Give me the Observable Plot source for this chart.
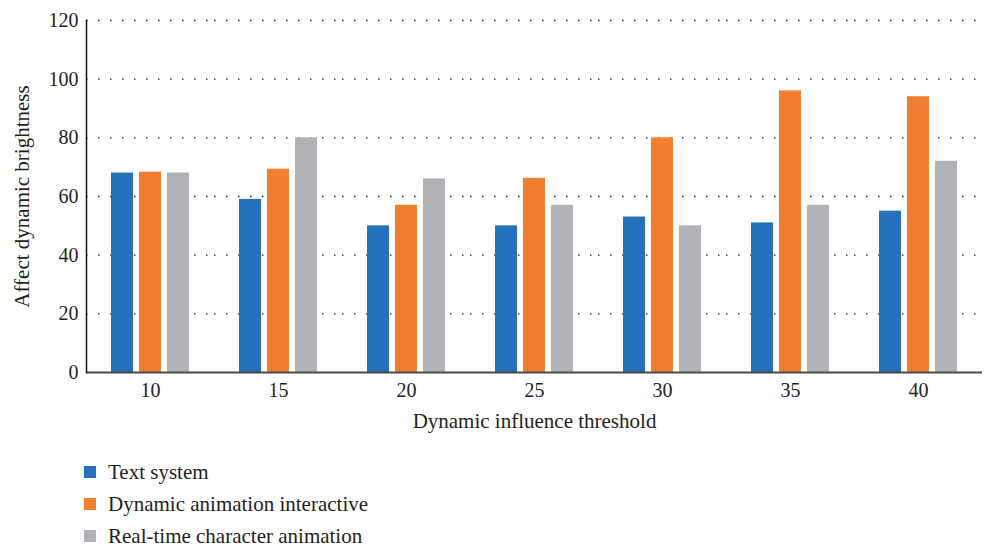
<!DOCTYPE html>
<html>
<head>
<meta charset="utf-8">
<script src="https://cdn.jsdelivr.net/npm/d3@7"></script>
<script src="https://cdn.jsdelivr.net/npm/@observablehq/plot@0.6"></script>
<style>
  html, body { margin: 0; padding: 0; background: #fff; overflow: hidden; }
  #chart { width: 984px; }
  .legend { padding-left: 84px; margin-top: 10px; font-family: "Liberation Serif", serif; font-size: 21px; color: #231f20; }
  .legend .row { display: flex; align-items: center; height: 32px; }
  .legend .swatch { width: 12px; height: 12px; margin-right: 12px; flex: none; }
</style>
</head>
<body>
<div id="chart"></div>
<script>
// Categories along the horizontal axis
const thresholds = ["10", "15", "20", "25", "30", "35", "40"];
// Series names, in legend order
const seriesNames = ["Text system", "Dynamic animation interactive", "Real-time character animation"];
const seriesColors = ["#2572bb", "#f27e2f", "#b1b2b5"];
// Values per series, one per threshold
const textSystem = [68, 59, 50, 50, 53, 51, 55];
const dynamicInteractive = [68.3, 69.3, 57, 66.2, 80, 96, 94];
const realtimeCharacter = [68, 80, 66, 57, 50, 57, 72];
// Y axis ticks
const yTicks = [0, 20, 40, 60, 80, 100, 120];

const seriesValues = [textSystem, dynamicInteractive, realtimeCharacter];
const rows = [];
thresholds.forEach((t, i) => {
  seriesNames.forEach((s, j) => rows.push({threshold: t, series: s, value: seriesValues[j][i]}));
});

const chart = Plot.plot({
  width: 984,
  height: 446,
  marginLeft: 84,
  marginRight: 0,
  marginTop: 20,
  marginBottom: 74,
  style: {fontFamily: "Liberation Serif, serif", fontSize: "20px", color: "#231f20", background: "#fff"},
  fx: {domain: thresholds, padding: 0, label: "Dynamic influence threshold"},
  x: {domain: seriesNames, paddingInner: 0.2, paddingOuter: 0.84, axis: null},
  y: {domain: [0, 120]},
  color: {domain: seriesNames, range: seriesColors},
  marks: [
    Plot.gridY(yTicks.filter(t => t > 0), {stroke: "#222", strokeOpacity: 1, strokeWidth: 1.3, strokeDasharray: "1.5,10.5"}),
    Plot.barY(rows, {fx: "threshold", x: "series", y: "value", fill: "series"}),
    Plot.ruleY([0], {stroke: "#4a4a4a", strokeWidth: 2}),
    Plot.frame({anchor: "left", facetAnchor: "left", stroke: "#111", strokeWidth: 1.5}),
    Plot.axisY({ticks: yTicks, tickSize: 0, tickPadding: 8, fontSize: 20, label: null}),
    Plot.axisY({ticks: [], tickSize: 0, fontSize: 21, label: "Affect dynamic brightness", labelAnchor: "center", labelArrow: "none", labelOffset: 72}),
    Plot.axisFx({anchor: "bottom", tickSize: 0, tickPadding: 10, fontSize: 20, label: null}),
    Plot.axisFx({anchor: "bottom", ticks: [], tickSize: 0, fontSize: 21, label: "Dynamic influence threshold", labelAnchor: "center", labelArrow: "none", labelOffset: 55})
  ]
});
document.getElementById("chart").appendChild(chart);

// Legend below the chart
const legend = document.createElement("div");
legend.className = "legend";
seriesNames.forEach((name, i) => {
  const row = document.createElement("div");
  row.className = "row";
  const sw = document.createElement("span");
  sw.className = "swatch";
  sw.style.background = seriesColors[i];
  const label = document.createElement("span");
  label.textContent = name;
  row.appendChild(sw);
  row.appendChild(label);
  legend.appendChild(row);
});
document.body.appendChild(legend);
</script>
</body>
</html>
